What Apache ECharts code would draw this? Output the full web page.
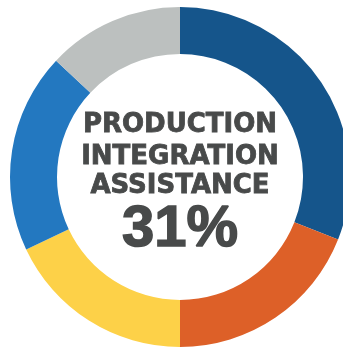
<!DOCTYPE html>
<html>
<head>
<meta charset="utf-8">
<script src="https://cdn.jsdelivr.net/npm/echarts@6/dist/echarts.min.js"></script>
<style>
  html, body { margin: 0; padding: 0; background: #ffffff; }
  #chart { width: 343px; height: 349px; }
</style>
</head>
<body>
<div id="chart"></div>
<script>
// Share of each area, in percent, clockwise from 12 o'clock
const categories = ['Production Integration Assistance', 'Area 2', 'Area 3', 'Area 4', 'Area 5'];
const shares = [31, 19, 18, 19, 13];
const sliceColors = ['#15558b', '#dd6028', '#fdd148', '#2378c0', '#bcc0bf'];
const titleLines = ['PRODUCTION', 'INTEGRATION', 'ASSISTANCE'];
const highlightIndex = 0;

const chart = echarts.init(document.getElementById('chart'), null, { renderer: 'canvas' });

const textColor = '#484a4a';
const cx = 180, cy = 177;
const lineY = [125.5, 157, 186];

chart.setOption({
  animation: false,
  series: [{
    type: 'pie',
    center: [cx, cy],
    radius: [123, 170],
    startAngle: 90,
    clockwise: true,
    silent: true,
    label: { show: false },
    labelLine: { show: false },
    itemStyle: { borderWidth: 0 },
    data: categories.map((name, i) => ({
      name,
      value: shares[i],
      itemStyle: { color: sliceColors[i] }
    }))
  }],
  graphic: [
    ...titleLines.map((t, i) => ({
      type: 'text',
      x: cx,
      y: lineY[i],
      style: {
        text: t,
        fill: textColor,
        stroke: textColor,
        lineWidth: 0.8,
        font: 'bold 26px "DejaVu Sans"',
        align: 'center',
        verticalAlign: 'middle'
      }
    })),
    {
      type: 'text',
      x: cx,
      y: 230,
      style: {
        text: shares[highlightIndex] + '%',
        fill: textColor,
        stroke: textColor,
        lineWidth: 1.5,
        font: 'bold 58px "Liberation Sans"',
        align: 'center',
        verticalAlign: 'middle'
      }
    }
  ]
});
</script>
</body>
</html>
